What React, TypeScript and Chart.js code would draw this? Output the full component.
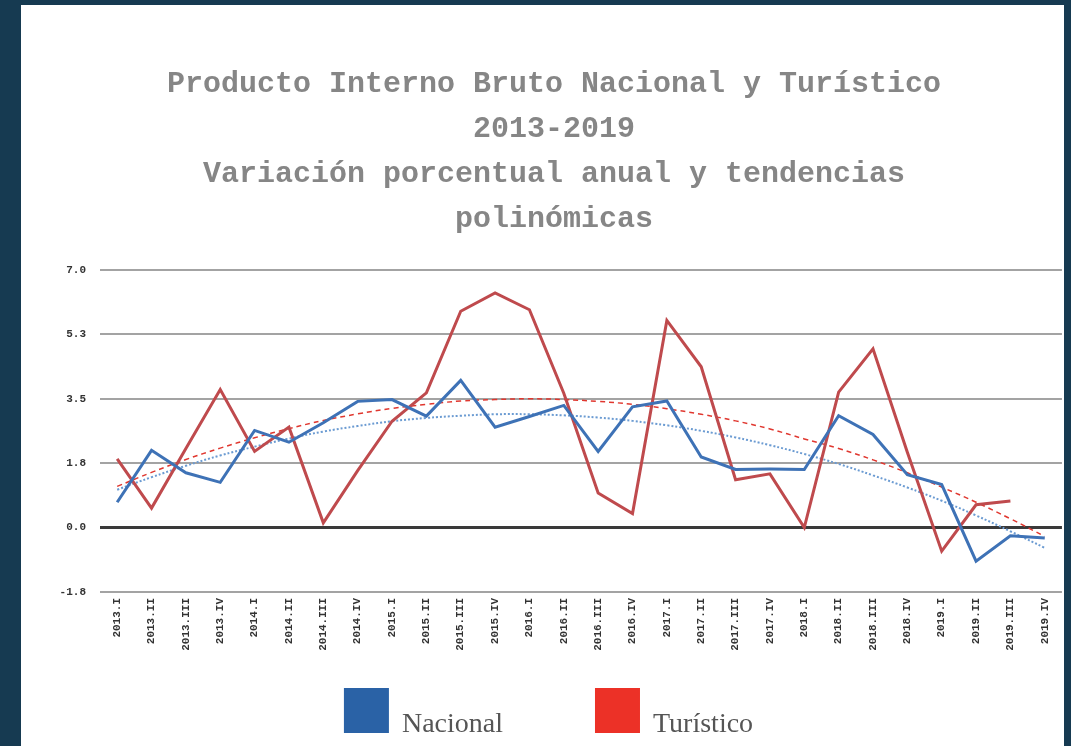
import React, { useEffect, useRef } from 'react';
import { Chart, registerables } from 'chart.js';

Chart.register(...registerables);

const categories = [
  '2013.I', '2013.II', '2013.III', '2013.IV',
  '2014.I', '2014.II', '2014.III', '2014.IV',
  '2015.I', '2015.II', '2015.III', '2015.IV',
  '2016.I', '2016.II', '2016.III', '2016.IV',
  '2017.I', '2017.II', '2017.III', '2017.IV',
  '2018.I', '2018.II', '2018.III', '2018.IV',
  '2019.I', '2019.II', '2019.III', '2019.IV',
];

const nacional = [
  0.69, 2.1, 1.49, 1.23, 2.64, 2.32, 2.85, 3.43, 3.48, 3.03, 4.0, 2.73, 3.02, 3.32,
  2.07, 3.28, 3.44, 1.92, 1.58, 1.59, 1.58, 3.04, 2.53, 1.44, 1.17, -0.91, -0.22, -0.28,
];

const turistico = [
  1.87, 0.53, 2.15, 3.75, 2.07, 2.73, 0.13, 1.55, 2.89, 3.66, 5.88, 6.38, 5.92, 3.65,
  0.94, 0.38, 5.63, 4.37, 1.3, 1.46, 0.0, 3.68, 4.86, 2.05, -0.64, 0.62, 0.72, null,
];

const tendenciaNacional = [
  1.03, 1.37, 1.68, 1.96, 2.2, 2.42, 2.61, 2.76, 2.89, 2.98, 3.04, 3.08, 3.08, 3.05,
  2.99, 2.9, 2.78, 2.63, 2.45, 2.24, 2.0, 1.73, 1.42, 1.09, 0.73, 0.33, -0.1, -0.55,
];

const tendenciaTuristico = [
  1.12, 1.5, 1.85, 2.16, 2.44, 2.69, 2.91, 3.09, 3.24, 3.35, 3.44, 3.48, 3.5, 3.48,
  3.43, 3.35, 3.23, 3.08, 2.9, 2.68, 2.41, 2.15, 1.84, 1.49, 1.1, 0.69, 0.24, -0.24,
];

const titleLines = [
  'Producto Interno Bruto Nacional y Turístico',
  '2013-2019',
  'Variación porcentual anual y tendencias',
  'polinómicas',
];

const yMin = -1.75;
const yMax = 7;
const yStep = 1.75;

const legendLabels = ['Nacional', 'Turístico'];
const legendColors = ['#2a62a6', '#ec3127'];

const boxLegend = {
  id: 'boxLegend',
  afterDraw(chart: any) {
    const ctx = chart.ctx;
    ctx.save();
    ctx.font = '28px "Liberation Serif"';
    const box = 45;
    const gap = 13;
    const itemGap = 92;
    const items = legendLabels.map((t, i) => ({
      text: t,
      color: legendColors[i],
      w: ctx.measureText(t).width,
    }));
    const total =
      items.reduce((s, it) => s + box + gap + it.w, 0) + itemGap * (items.length - 1);
    let x = chart.width / 2 + 6 - total / 2;
    const y = chart.height - 58;
    items.forEach((it) => {
      ctx.fillStyle = it.color;
      ctx.fillRect(x, y, box, box);
      ctx.fillStyle = '#555555';
      ctx.textAlign = 'left';
      ctx.textBaseline = 'alphabetic';
      ctx.fillText(it.text, x + box + gap, y + box - 1);
      x += box + gap + it.w + itemGap;
    });
    ctx.restore();
  },
};

export default function App() {
  const canvasRef = useRef<HTMLCanvasElement | null>(null);

  useEffect(() => {
    if (!canvasRef.current) return;
    const tickFont = { family: '"Liberation Mono"', size: 11, weight: 'bold' as const };
    const chart = new Chart(canvasRef.current, {
      type: 'line',
      data: {
        labels: categories,
        datasets: [
          {
            label: legendLabels[0],
            data: nacional,
            borderColor: '#3e72b6',
            backgroundColor: '#3e72b6',
            borderWidth: 3,
            pointRadius: 0,
            tension: 0,
            order: 1,
          },
          {
            label: legendLabels[1],
            data: turistico,
            borderColor: '#bf4a4d',
            backgroundColor: '#bf4a4d',
            borderWidth: 3,
            pointRadius: 0,
            tension: 0,
            order: 2,
          },
          {
            label: 'Polinómica (Nacional)',
            data: tendenciaNacional,
            borderColor: '#6b9bd2',
            borderWidth: 2,
            borderDash: [2, 2],
            pointRadius: 0,
            tension: 0.4,
            order: 4,
          },
          {
            label: 'Polinómica (Turístico)',
            data: tendenciaTuristico,
            borderColor: '#e0372f',
            borderWidth: 1.5,
            borderDash: [5, 4],
            pointRadius: 0,
            tension: 0.4,
            order: 3,
          },
        ],
      },
      options: {
        responsive: false,
        animation: false,
        layout: { padding: { left: 25, right: 2, top: 0, bottom: 74 } },
        plugins: {
          legend: { display: false },
          tooltip: { enabled: false },
          title: {
            display: true,
            text: titleLines,
            color: '#868686',
            font: { family: '"Liberation Mono"', size: 30, weight: 'bold', lineHeight: 1.5 },
            padding: { top: 57, bottom: 28 },
          },
        },
        scales: {
          x: {
            offset: true,
            grid: { display: false, drawTicks: false },
            border: { display: false },
            ticks: {
              autoSkip: false,
              maxRotation: 90,
              minRotation: 90,
              padding: 6,
              color: '#333333',
              font: tickFont,
            },
            afterFit(scale: any) {
              scale.height = 80;
            },
          },
          y: {
            min: yMin,
            max: yMax,
            border: { display: false },
            grid: {
              drawTicks: false,
              color: (c: any) => (Math.abs(c.tick.value) < 1e-9 ? '#3a3a3a' : '#a3a3a3'),
              lineWidth: (c: any) => (Math.abs(c.tick.value) < 1e-9 ? 3 : 2),
            },
            ticks: {
              stepSize: yStep,
              padding: 14,
              color: '#333333',
              font: tickFont,
              callback: (v: any) => Number(v).toFixed(1),
            },
            afterFit(scale: any) {
              scale.width = 54;
            },
          },
        },
      },
      plugins: [boxLegend],
    });
    return () => chart.destroy();
  }, []);

  return (
    <div
      style={{
        position: 'fixed',
        left: 0,
        top: 0,
        width: 1071,
        height: 746,
        background: '#163a51',
        overflow: 'hidden',
      }}
    >
      <div
        style={{
          position: 'absolute',
          left: 21,
          top: 5,
          width: 1043,
          height: 741,
          background: '#ffffff',
        }}
      >
        <canvas ref={canvasRef} width={1043} height={741} style={{ display: 'block' }} />
      </div>
    </div>
  );
}
